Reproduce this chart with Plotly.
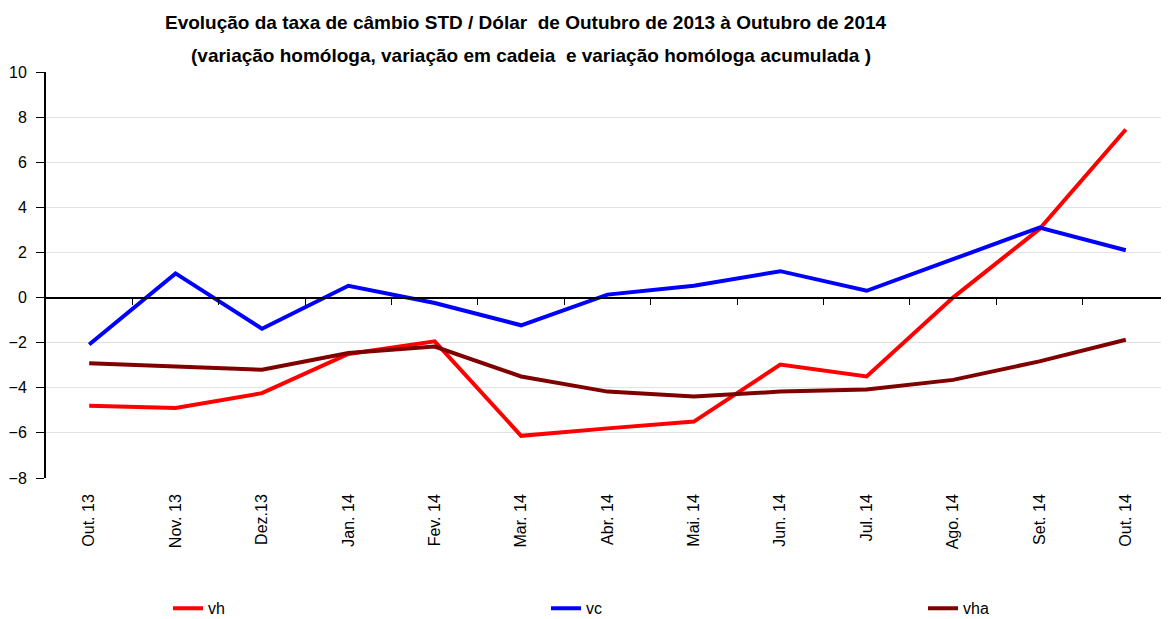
import plotly.graph_objects as go

categories = ["Out. 13", "Nov. 13", "Dez.13", "Jan. 14", "Fev. 14", "Mar. 14", "Abr. 14",
              "Mai. 14", "Jun. 14", "Jul. 14", "Ago. 14", "Set. 14", "Out. 14"]
vh = [-4.8, -4.9, -4.24, -2.5, -1.94, -6.13, -5.8, -5.5, -2.97, -3.5, 0.0, 3.04, 7.45]
vc = [-2.08, 1.07, -1.38, 0.52, -0.24, -1.23, 0.13, 0.52, 1.17, 0.3, 1.7, 3.1, 2.1]
vha = [-2.91, -3.06, -3.2, -2.46, -2.17, -3.5, -4.17, -4.39, -4.17, -4.08, -3.65, -2.83, -1.87]
y_ticks = [-8, -6, -4, -2, 0, 2, 4, 6, 8, 10]

FONT = "Liberation Sans, Arial, sans-serif"
YMIN, YMAX = -8, 10

fig = go.Figure()
fig.add_trace(go.Scatter(x=categories, y=vh, name="vh", mode="lines", legend="legend",
                         line=dict(color="#FF0000", width=4)))
fig.add_trace(go.Scatter(x=categories, y=vc, name="vc", mode="lines", legend="legend2",
                         line=dict(color="#0000FF", width=4)))
fig.add_trace(go.Scatter(x=categories, y=vha, name="vha", mode="lines", legend="legend3",
                         line=dict(color="#800000", width=4)))
# invisible helper trace so the zero-line axis (x2) is rendered
fig.add_trace(go.Scatter(x=list(range(len(categories))), y=[0] * len(categories),
                         xaxis="x2", mode="lines", line=dict(width=0),
                         showlegend=False, hoverinfo="skip"))

n = len(categories)
zero_pos = (0 - YMIN) / (YMAX - YMIN)

W, H = 1161, 611
L, R, T, B = 38, 0, 64, 141
PW = W - L - R
PH = H - T - B


def px_x(page_x):
    # page x (browser coordinates, 8px body offset) -> paper x
    return (page_x - 8 - L) / PW


def px_y(page_y):
    return (H - B - (page_y - 8)) / PH


legend_common = dict(orientation="h", y=-0.279, yanchor="top", xanchor="left",
                     font=dict(size=16), bgcolor="rgba(0,0,0,0)")

fig.update_layout(
    width=W, height=H,
    margin=dict(l=L, r=R, t=T, b=B, autoexpand=False),
    paper_bgcolor="white", plot_bgcolor="white",
    font=dict(family=FONT, size=16, color="black"),
    annotations=[
        dict(text="<b>Evolução da taxa de câmbio STD / Dólar  de Outubro de 2013 à Outubro de 2014</b>",
             xref="paper", yref="paper", x=px_x(525.5), y=px_y(22), xanchor="center",
             yanchor="middle", showarrow=False, font=dict(family=FONT, size=19, color="black")),
        dict(text="<b>(variação homóloga, variação em cadeia  e variação homóloga acumulada )</b>",
             xref="paper", yref="paper", x=px_x(531), y=px_y(55), xanchor="center",
             yanchor="middle", showarrow=False, font=dict(family=FONT, size=19, color="black")),
    ],
    xaxis=dict(
        type="category", range=[-0.5, n - 0.5], showline=False, ticks="",
        tickangle=-90, showgrid=False, zeroline=False,
        tickfont=dict(size=16), ticklabelstandoff=12,
    ),
    xaxis2=dict(
        overlaying="x", anchor="free", position=zero_pos, domain=[0, 1],
        range=[-0.5, n - 0.5], showline=True, linecolor="black", linewidth=1.6,
        tickvals=[i + 0.5 for i in range(n - 1)], ticks="outside", ticklen=7,
        tickcolor="black", tickwidth=1, showticklabels=False, showgrid=False,
        zeroline=False,
    ),
    yaxis=dict(
        range=[YMIN, YMAX], tickvals=y_ticks, showline=True, linecolor="black",
        linewidth=2, ticks="outside", ticklen=8, tickcolor="black", tickwidth=1.2,
        gridcolor="#e2e2e2", gridwidth=1, zeroline=False,
        tickfont=dict(size=16), ticklabelstandoff=6,
    ),
    legend=dict(x=px_x(165 + 3), **legend_common),
    legend2=dict(x=px_x(543 + 3), **legend_common),
    legend3=dict(x=px_x(920 + 3), **legend_common),
    showlegend=True,
)

fig.write_html("out.html")
